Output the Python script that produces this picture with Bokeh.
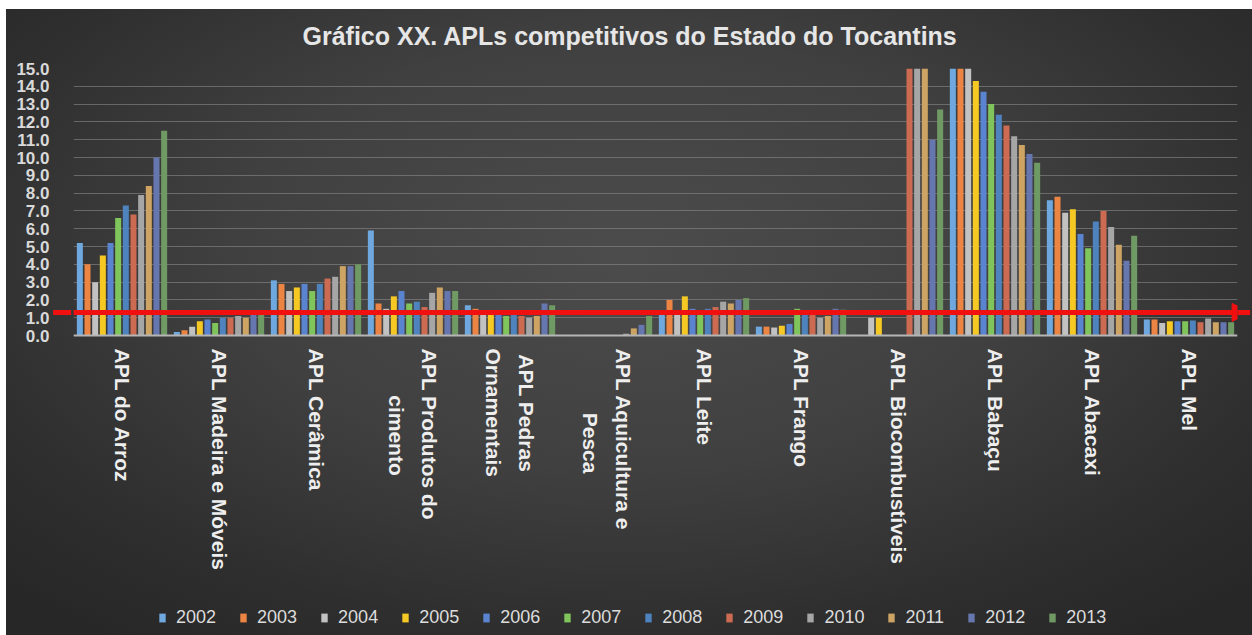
import math
from bokeh.plotting import figure
from bokeh.models import (ColumnDataSource, Range1d, FixedTicker, Legend, LegendItem,
                          Arrow, NormalHead, PrintfTickFormatter, Span)
from bokeh.core.properties import value
from bokeh.embed import file_html
from bokeh.resources import INLINE

# ---------------- data ----------------
categories = ["APL do Arroz", "APL Madeira e Móveis", "APL Cerâmica", "APL Produtos do cimento",
              "APL Pedras Ornamentais", "APL Aquicultura e Pesca", "APL Leite", "APL Frango",
              "APL Biocombustíveis", "APL Babaçu", "APL Abacaxi", "APL Mel"]
NB = "\u00a0"
tick_labels = ["APL do Arroz", "APL Madeira e Móveis", "APL Cerâmica",
               "APL Produtos do\n" + NB * 8 + "cimento",
               NB + "APL Pedras\nOrnamentais",
               "APL Aquicultura e\n" + NB * 11 + "Pesca",
               "APL Leite", "APL Frango", "APL Biocombustíveis", "APL Babaçu", "APL Abacaxi", "APL Mel"]
years = ["2002", "2003", "2004", "2005", "2006", "2007",
         "2008", "2009", "2010", "2011", "2012", "2013"]

y2002 = [5.2, 0.2, 3.1, 5.9, 1.7, 0.0, 1.2, 0.5, 0.0, 15.0, 7.6, 0.9]
y2003 = [4.0, 0.3, 2.9, 1.8, 1.5, 0.0, 2.0, 0.5, 0.0, 15.0, 7.8, 0.9]
y2004 = [3.0, 0.5, 2.5, 1.5, 1.2, 0.0, 1.2, 0.45, 1.0, 15.0, 6.9, 0.7]
y2005 = [4.5, 0.8, 2.7, 2.2, 1.2, 0.0, 2.2, 0.55, 1.0, 14.3, 7.1, 0.8]
y2006 = [5.2, 0.9, 2.9, 2.5, 1.2, 0.0, 1.5, 0.65, 0.0, 13.7, 5.7, 0.8]
y2007 = [6.6, 0.7, 2.5, 1.8, 1.1, 0.0, 1.4, 1.5, 0.0, 13.0, 4.9, 0.8]
y2008 = [7.3, 1.0, 2.9, 1.9, 1.15, 0.0, 1.5, 1.4, 0.0, 12.4, 6.4, 0.85]
y2009 = [6.8, 1.0, 3.2, 1.6, 1.1, 0.0, 1.6, 1.2, 15.0, 11.8, 7.0, 0.75]
y2010 = [7.9, 1.1, 3.3, 2.4, 1.0, 0.1, 1.9, 1.0, 15.0, 11.2, 6.1, 0.95]
y2011 = [8.4, 1.0, 3.9, 2.7, 1.1, 0.4, 1.8, 1.1, 15.0, 10.7, 5.1, 0.75]
y2012 = [10.0, 1.2, 3.9, 2.5, 1.8, 0.6, 2.0, 1.5, 11.0, 10.2, 4.2, 0.75]
y2013 = [11.5, 1.2, 4.0, 2.5, 1.7, 1.1, 2.1, 1.45, 12.7, 9.7, 5.6, 0.75]

series = [y2002, y2003, y2004, y2005, y2006, y2007,
          y2008, y2009, y2010, y2011, y2012, y2013]

colors = ["#6ea8de", "#ec8444", "#c2c2c2", "#f5c824", "#5a84d0", "#80c45c",
          "#4e83be", "#cc6b52", "#a6a6a6", "#cda463", "#6676ae", "#709a64"]

THRESHOLD = 1.3
y_ticks = list(range(0, 16))
Y_MAX = 15
Y_MIN = -16.85   # frame continues below zero to hold category labels and legend

# ---------------- figure ----------------
n_cat = len(categories)
n_ser = len(years)
slot = 0.079
bar_w = 0.062

p = figure(width=1252, height=635, output_backend="svg", toolbar_location=None,
           x_range=Range1d(-0.5, n_cat - 0.5), y_range=Range1d(Y_MIN, Y_MAX),
           x_axis_location=None,
           min_border_left=73, min_border_right=15, min_border_top=68, min_border_bottom=0)
p.styles = {"background": (
    "linear-gradient(to bottom, #ffffff 0px, #ffffff 9px, transparent 9px), "
    "linear-gradient(to right, #ffffff 0px, #ffffff 6px, transparent 6px), "
    "radial-gradient(ellipse 70% 75% at 50% 40%, #4c4c4c 0%, #404040 45%, #2e2e2e 80%, #272727 100%)")}
p.border_fill_alpha = 0
p.background_fill_alpha = 0
p.outline_line_color = None

items = []
for j, (yr, vals, col) in enumerate(zip(years, series, colors)):
    xs = [i + (j - (n_ser - 1) / 2) * slot for i in range(n_cat)]
    src = ColumnDataSource(dict(x=xs, top=vals, cat=categories))
    r = p.vbar(x="x", top="top", bottom=0, width=bar_w, source=src,
               fill_color=col, line_color=None)
    items.append(LegendItem(label=yr, renderers=[r]))

# zero line (category axis line)
p.add_layout(Span(location=0, dimension="width", line_color="#b5b5b5", line_width=2))

# category labels, rotated, hanging below the zero line
lab_src = ColumnDataSource(dict(x=list(range(n_cat)), y=[0] * n_cat, label=tick_labels))
p.text(x="x", y="y", text="label", source=lab_src, angle=-math.pi / 2,
       text_align="left", text_baseline="middle", y_offset=13,
       text_font=value("Liberation Sans"), text_font_size="21px",
       text_font_style="bold", text_color="#eeeeee", text_line_height=1.45)

# title
p.title.text = "Gráfico XX. APLs competitivos do Estado do Tocantins"
p.title.align = "left"
p.title.offset = 229
p.title.text_font = "Liberation Sans"
p.title.text_font_size = "25px"
p.title.text_font_style = "bold"
p.title.text_color = "#e6e6e6"
p.title.standoff = 38

# y axis
p.yaxis.ticker = FixedTicker(ticks=y_ticks)
p.yaxis.formatter = PrintfTickFormatter(format="%.1f")
p.yaxis.axis_line_color = None
p.yaxis.major_tick_line_color = None
p.yaxis.minor_tick_line_color = None
p.yaxis.major_label_text_font = "Liberation Sans"
p.yaxis.major_label_text_font_size = "17px"
p.yaxis.major_label_text_font_style = "bold"
p.yaxis.major_label_text_color = "#d9d9d9"
p.yaxis.major_label_standoff = 18

p.xgrid.visible = False
p.ygrid.grid_line_color = "#8a8a8a"
p.ygrid.grid_line_alpha = 0.6

# threshold arrow
arrow = Arrow(x_start=-0.71, y_start=THRESHOLD, x_end=11.63, y_end=THRESHOLD,
              line_color="#f01010", line_width=5,
              start=NormalHead(size=18, fill_color="#f01010", line_color="#f01010"),
              end=NormalHead(size=18, fill_color="#f01010", line_color="#f01010"))
p.add_layout(arrow)

legend = Legend(items=items, orientation="horizontal", location=(85, 7),
                background_fill_alpha=0, border_line_color=None,
                label_text_color="#dcdcdc", label_text_font="Liberation Sans",
                label_text_font_size="18px", glyph_width=8, glyph_height=11,
                label_standoff=10, spacing=23, padding=0, margin=0)
p.add_layout(legend)

open("out.html", "w").write(file_html(p, INLINE))
